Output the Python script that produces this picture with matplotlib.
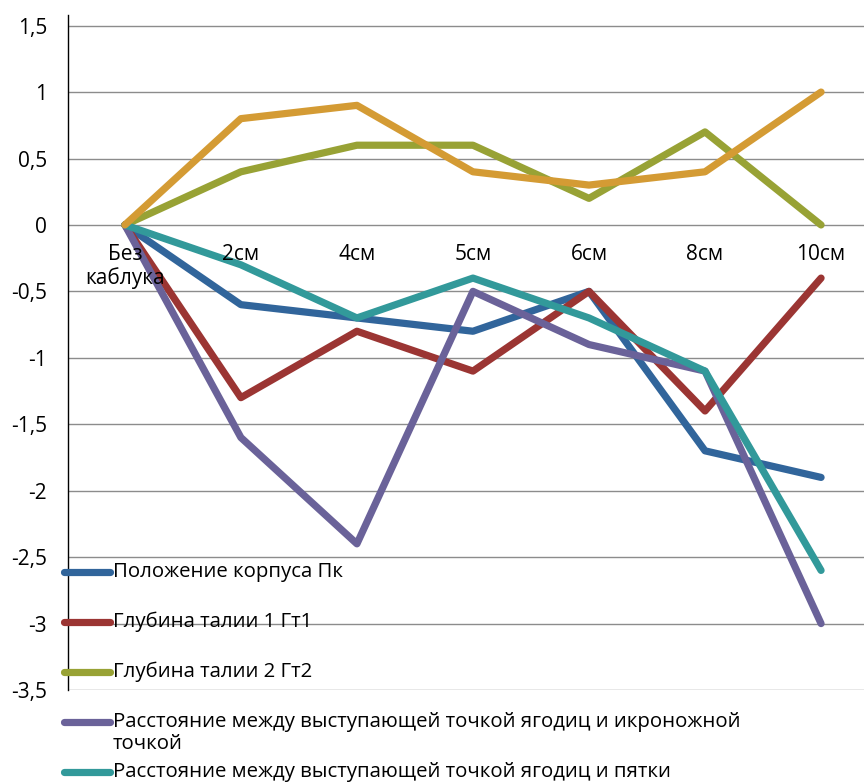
import numpy as np
import matplotlib
matplotlib.use('Agg')
import matplotlib.pyplot as plt
from matplotlib.lines import Line2D

plt.rcParams['font.family'] = ['Open Sans', 'DejaVu Sans']

# categories (heel height)
categories = ['Без\nкаблука', '2см', '4см', '5см', '6см', '8см', '10см']

# series values
pk = [0, -0.6, -0.7, -0.8, -0.5, -1.7, -1.9]
gt1 = [0, -1.3, -0.8, -1.1, -0.5, -1.4, -0.4]
gt2 = [0, 0.4, 0.6, 0.6, 0.2, 0.7, 0]
ikro = [0, -1.6, -2.4, -0.5, -0.9, -1.1, -3.0]
pyatka = [0, -0.3, -0.7, -0.4, -0.7, -1.1, -2.6]
orange = [0, 0.8, 0.9, 0.4, 0.3, 0.4, 1.0]

labels = ['Положение корпуса Пк',
          'Глубина талии 1 Гт1',
          'Глубина талии 2 Гт2',
          'Расстояние между выступающей точкой ягодиц и икроножной\nточкой',
          'Расстояние между выступающей точкой ягодиц и пятки']
colors = ['#31659b', '#9b3533', '#98a235', '#6a6299', '#32999a', '#d49b34']
series = [pk, gt1, gt2, ikro, pyatka, orange]

yticks = [1.5, 1, 0.5, 0, -0.5, -1, -1.5, -2, -2.5, -3, -3.5]

fig = plt.figure(figsize=(8.64, 7.82), dpi=100)
ax = fig.add_axes([68/864, 1-690/782, 1-68/864, (690-15)/782])

x = np.arange(len(categories))
for i in range(len(series)):
    ax.plot(x, series[i], color=colors[i], lw=5.2, solid_capstyle='round',
            solid_joinstyle='round', zorder=3)

ax.set_xlim(-0.49, 6.37)
ax.set_ylim(-3.5, 1.58)
ax.set_yticks(yticks)
ax.set_yticklabels([('%g' % v).replace('.', ',') for v in yticks], fontsize=15)
ax.tick_params(axis='y', length=0, pad=15)
ax.set_xticks([])
ax.grid(axis='y', color='#8c8c8c', lw=1)
for s in ['top', 'right', 'bottom']:
    ax.spines[s].set_visible(False)
ax.spines['left'].set_color('black')
ax.spines['left'].set_linewidth(1)

for i, c in enumerate(categories):
    ax.text(i, -0.14, c, ha='center', va='top', fontsize=15, zorder=4,
            linespacing=1.15)

# legend drawn by hand (Excel-style, cut off at the bottom of the picture)
leg_y = [572, 622, 672, 722, 772]
for i, lab in enumerate(labels):
    yy = 1 - leg_y[i]/782
    fig.add_artist(Line2D([64/864, 110/864], [yy, yy], color=colors[i], lw=5.2,
                          solid_capstyle='round'))
    fig.text(113/864, yy + 10/782, lab, ha='left', va='top', fontsize=14.7,
             linespacing=1.12)

fig.savefig('out.png', dpi=100)
